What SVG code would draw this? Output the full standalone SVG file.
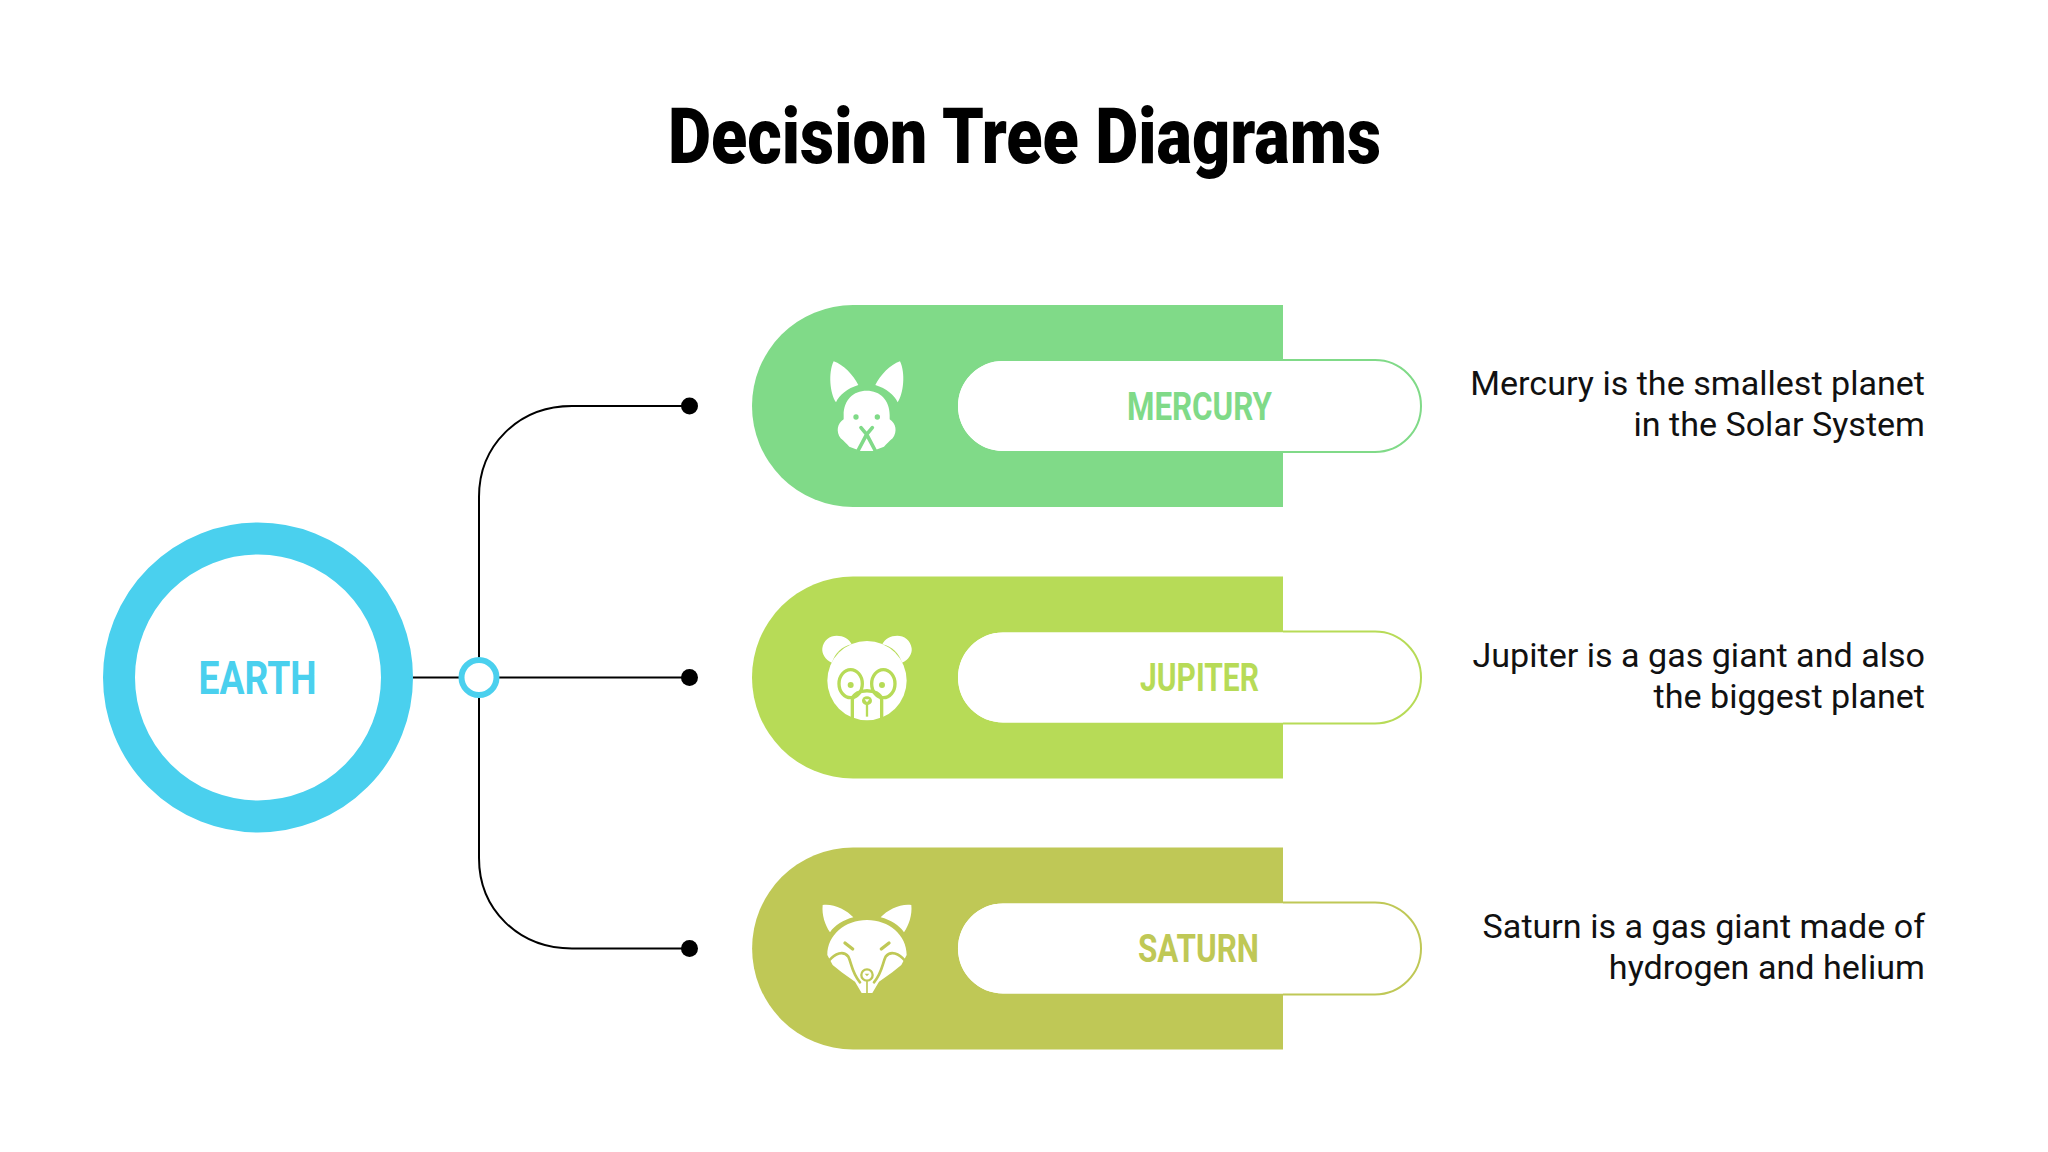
<svg xmlns="http://www.w3.org/2000/svg" width="2048" height="1152" viewBox="0 0 2048 1152">
<style>
.title{font-family:"Roboto","Liberation Sans",sans-serif;font-weight:900;font-size:78px;fill:#000}
.lab{font-family:"Roboto","Liberation Sans",sans-serif;font-weight:700;font-size:39px;text-anchor:start}
.desc{font-family:"Roboto","Liberation Sans",sans-serif;font-size:34.1px;fill:#111;text-anchor:end}
.pill{fill:#fff;stroke-width:2}
.line{fill:none;stroke:#000;stroke-width:2}
</style>
<rect width="2048" height="1152" fill="#fff"/>
<text class="title" x="668" y="163" textLength="713" lengthAdjust="spacingAndGlyphs">Decision Tree Diagrams</text>

<g id="connectors">
<path class="line" d="M413 677.5H689"/>
<path class="line" d="M689 406H572C518 406 479 446 479 497V858C479 909 518 948.5 572 948.5H689"/>
<circle cx="689.5" cy="406" r="8.5"/>
<circle cx="689.5" cy="677.5" r="8.5"/>
<circle cx="689.5" cy="948.5" r="8.5"/>
<circle cx="479" cy="677.5" r="17.5" fill="#fff" stroke="#4AD0EE" stroke-width="6"/>
</g>

<g id="earth">
<circle cx="258" cy="677.5" r="139" fill="#fff" stroke="#4AD0EE" stroke-width="32"/>
<text class="lab" x="198.5" y="693.5" style="font-size:46px" fill="#4AD0EE" textLength="118" lengthAdjust="spacingAndGlyphs">EARTH</text>
</g>

<g id="mercury">
<path d="M853 305H1283V507H853A101 101 0 0 1 853 305Z" fill="#80DA88"/>
<rect class="pill" x="957" y="360" width="464" height="92" rx="46" stroke="#80DA88"/>
<path d="M1003 361H1283V451H1003A45 45 0 0 1 1003 361Z" fill="#fff"/>
<text class="lab" x="1127" y="420" fill="#80DA88" textLength="145" lengthAdjust="spacingAndGlyphs">MERCURY</text>
<g transform="translate(800 340) scale(.3333)">
<g fill="#fff">
<path d="M101 64C130 74 160 105 175 135C142 145 118 165 108 187C90 160 84 100 101 64Z"/>
<path d="M300 64C271 74 241 105 226 135C259 145 283 165 293 187C311 160 317 100 300 64Z"/>
<path d="M200 152C160 152 131 180 131 225V238C112 250 107 275 122 295C132 303 140 312 148 320L164 326L182 333H218L236 326L252 320C260 312 268 303 278 295C293 275 288 250 269 238V225C269 180 240 152 200 152Z"/>
</g>
<g fill="#80DA88">
<circle cx="168" cy="231" r="8"/><circle cx="232" cy="231" r="8"/>
</g>
<path d="M183 263L200 283L217 263M200 283L172 336M200 283L228 336" fill="none" stroke="#80DA88" stroke-width="11" stroke-linecap="round"/>
</g>
<text class="desc" x="1925" y="395">Mercury is the smallest planet</text>
<text class="desc" x="1925" y="436">in the Solar System</text>
</g>

<g id="jupiter">
<path d="M853 576.500H1283V778.500H853A101 101 0 0 1 853 576.500Z" fill="#B7DB57"/>
<rect class="pill" x="957" y="631.500" width="464" height="92" rx="46" stroke="#B7DB57"/>
<path d="M1003 632.500H1283V722.500H1003A45 45 0 0 1 1003 632.500Z" fill="#fff"/>
<text class="lab" x="1140" y="691" fill="#B7DB57" textLength="119" lengthAdjust="spacingAndGlyphs">JUPITER</text>
<g transform="translate(800 615) scale(.3333)">
<g fill="#fff">
<path d="M96 143C75 135 65 115 67 100C70 75 90 62 110 62C130 62 148 72 155 88C125 95 105 115 96 143Z"/>
<path d="M306 143C327 135 337 115 335 100C332 75 312 62 292 62C272 62 254 72 247 88C277 95 297 115 306 143Z"/>
<circle cx="201" cy="197" r="119"/>
</g>
<g fill="none" stroke="#B7DB57" stroke-width="10">
<ellipse cx="152" cy="206" rx="35" ry="42"/>
<ellipse cx="250" cy="206" rx="35" ry="42"/>
<path d="M157 312V255C160 218 242 218 245 255V312"/>
<path d="M201 265V305" stroke-width="7"/>
</g>
<g fill="#B7DB57">
<circle cx="152" cy="210" r="9"/><circle cx="246" cy="210" r="9"/>
<ellipse cx="201" cy="257" rx="15" ry="13"/>
</g>
<path d="M194 253H208L201 262Z" fill="#fff"/>
</g>
<text class="desc" x="1925" y="667">Jupiter is a gas giant and also</text>
<text class="desc" x="1925" y="708">the biggest planet</text>
</g>

<g id="saturn">
<path d="M853 847.500H1283V1049.500H853A101 101 0 0 1 853 847.500Z" fill="#BFC856"/>
<rect class="pill" x="957" y="902.500" width="464" height="92" rx="46" stroke="#BFC856"/>
<path d="M1003 903.500H1283V993.500H1003A45 45 0 0 1 1003 903.500Z" fill="#fff"/>
<text class="lab" x="1138" y="962" fill="#BFC856" textLength="121" lengthAdjust="spacingAndGlyphs">SATURN</text>
<g transform="translate(800 885) scale(.3333)">
<g fill="#fff">
<path d="M68 60C100 55 140 75 160 97C130 105 105 120 90 142C75 120 65 90 68 60Z"/>
<path d="M334 60C302 55 262 75 242 97C272 105 297 120 312 142C327 120 337 90 334 60Z"/>
<path d="M201 105C135 105 82 150 82 210L98 240L125 262L165 290L185 324H217L237 290L277 262L304 240L320 210C320 150 267 105 201 105Z"/>
</g>
<g fill="none" stroke="#BFC856" stroke-linecap="round">
<path d="M135 174L158 192M267 174L244 192" stroke-width="10"/>
<path d="M86 228C105 205 130 195 145 215C155 235 155 262 180 292M316 228C297 205 272 195 257 215C247 235 247 262 222 292" stroke-width="8"/>
<path d="M201 290V326" stroke-width="5"/>
<circle cx="201" cy="270" r="17" fill="#fff" stroke-width="7"/>
</g>
<path d="M194 266H208L201 274Z" fill="#BFC856"/>
</g>
<text class="desc" x="1925" y="938">Saturn is a gas giant made of</text>
<text class="desc" x="1925" y="979">hydrogen and helium</text>
</g>
</svg>
